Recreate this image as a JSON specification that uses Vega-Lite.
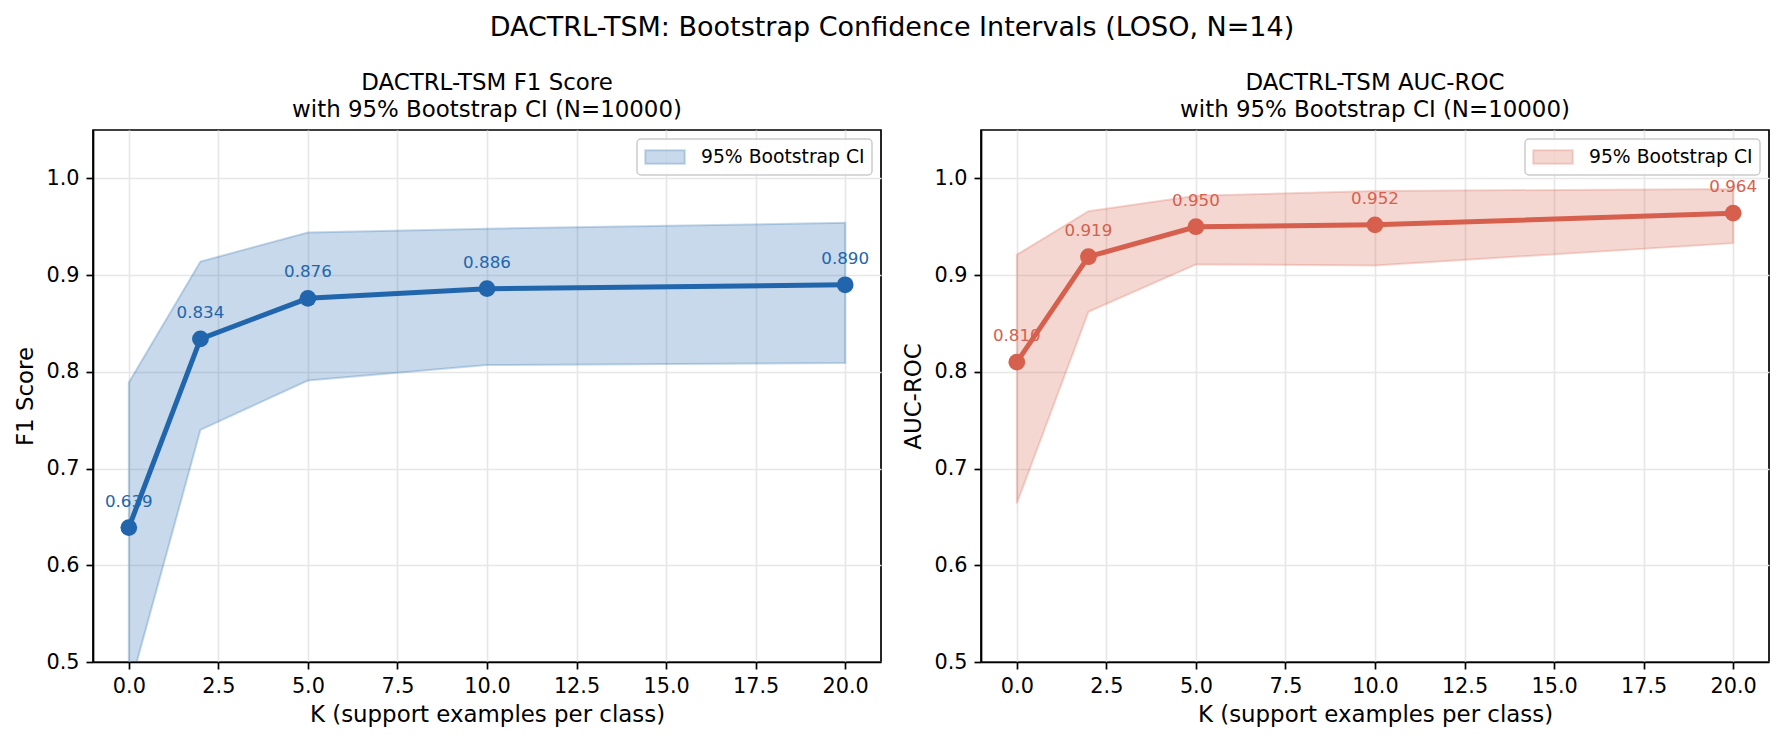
{
  "$schema": "https://vega.github.io/schema/vega-lite/v6.json",
  "padding": {"left": 14, "top": 14, "right": 5, "bottom": 5},
  "background": "white",
  "config": {
    "font": "DejaVu Sans",
    "view": {"stroke": "black", "strokeWidth": 1.7},
    "axis": {
      "domainColor": "black", "domainWidth": 1.7,
      "tickColor": "black", "tickWidth": 1.7, "tickSize": 7,
      "labelFont": "DejaVu Sans", "labelFontSize": 20.8, "labelColor": "black", "labelPadding": 7,
      "titleFont": "DejaVu Sans", "titleFontSize": 22.9, "titleFontWeight": "normal", "titleColor": "black", "titlePadding": 8,
      "gridColor": "#e7e7e7", "gridWidth": 1.7
    },
    "legend": {
      "orient": "top-right", "offset": 9, "padding": 7,
      "labelFont": "DejaVu Sans", "labelFontSize": 18.75, "labelColor": "black", "labelOffset": 25, "labelLimit": 0,
      "fillColor": "rgba(255,255,255,0.8)", "strokeColor": "#cccccc", "strokeWidth": 1.5, "cornerRadius": 4,
      "symbolType": "M-2,-0.68H2V0.68H-2Z", "symbolSize": 390, "symbolOffset": 10, "symbolStrokeWidth": 2
    },
    "title": {"font": "DejaVu Sans", "fontWeight": "normal", "color": "black"}
  },
  "title": {"text": "DACTRL-TSM: Bootstrap Confidence Intervals (LOSO, N=14)", "fontSize": 27, "anchor": "middle", "offset": 29},
  "data": {"values": [
    {"K": 0, "f1": 0.639, "f1_lo": 0.47, "f1_hi": 0.789, "auc": 0.810, "auc_lo": 0.664, "auc_hi": 0.921},
    {"K": 2, "f1": 0.834, "f1_lo": 0.740, "f1_hi": 0.914, "auc": 0.919, "auc_lo": 0.862, "auc_hi": 0.966},
    {"K": 5, "f1": 0.876, "f1_lo": 0.791, "f1_hi": 0.944, "auc": 0.950, "auc_lo": 0.911, "auc_hi": 0.982},
    {"K": 10, "f1": 0.886, "f1_lo": 0.807, "f1_hi": 0.948, "auc": 0.952, "auc_lo": 0.910, "auc_hi": 0.987},
    {"K": 20, "f1": 0.890, "f1_lo": 0.809, "f1_hi": 0.954, "auc": 0.964, "auc_lo": 0.933, "auc_hi": 0.989}
  ]},
  "spacing": 20,
  "resolve": {"scale": {"color": "independent"}, "legend": {"color": "independent"}},
  "hconcat": [
    {
      "width": 788, "height": 532,
      "title": {"text": ["DACTRL-TSM F1 Score", "with 95% Bootstrap CI (N=10000)"], "fontSize": 22.9, "lineHeight": 27, "offset": 8, "anchor": "middle"},
      "encoding": {
        "x": {"field": "K", "type": "quantitative", "scale": {"domain": [-1, 21], "nice": false, "zero": false},
              "axis": {"values": [0, 2.5, 5, 7.5, 10, 12.5, 15, 17.5, 20], "format": ".1f", "title": "K (support examples per class)"}}
      },
      "layer": [
        {
          "mark": {"type": "area", "clip": true, "stroke": "rgba(33,102,172,0.25)", "strokeWidth": 2},
          "encoding": {
            "y": {"field": "f1_lo", "type": "quantitative", "scale": {"domain": [0.5, 1.05], "nice": false, "zero": false},
                  "axis": {"values": [0.5, 0.6, 0.7, 0.8, 0.9, 1.0], "format": ".1f", "title": "F1 Score"}},
            "y2": {"field": "f1_hi"},
            "color": {"datum": "95% Bootstrap CI", "type": "nominal", "scale": {"range": ["rgba(33,102,172,0.25)"]},
                      "legend": {"title": null, "symbolStrokeColor": "rgba(33,102,172,0.25)"}}
          }
        },
        {
          "mark": {"type": "line", "color": "#2166ac", "strokeWidth": 5},
          "encoding": {"y": {"field": "f1", "type": "quantitative", "title": "F1 Score"}}
        },
        {
          "mark": {"type": "point", "filled": true, "size": 280, "color": "#2166ac", "opacity": 1},
          "encoding": {"y": {"field": "f1", "type": "quantitative", "title": "F1 Score"}}
        },
        {
          "mark": {"type": "text", "dy": -21, "baseline": "alphabetic", "align": "center", "fontSize": 16.7, "color": "#2166ac"},
          "encoding": {"y": {"field": "f1", "type": "quantitative", "title": "F1 Score"}, "text": {"field": "f1", "format": ".3f"}}
        }
      ]
    },
    {
      "width": 788, "height": 532,
      "title": {"text": ["DACTRL-TSM AUC-ROC", "with 95% Bootstrap CI (N=10000)"], "fontSize": 22.9, "lineHeight": 27, "offset": 8, "anchor": "middle"},
      "encoding": {
        "x": {"field": "K", "type": "quantitative", "scale": {"domain": [-1, 21], "nice": false, "zero": false},
              "axis": {"values": [0, 2.5, 5, 7.5, 10, 12.5, 15, 17.5, 20], "format": ".1f", "title": "K (support examples per class)"}}
      },
      "layer": [
        {
          "mark": {"type": "area", "clip": true, "stroke": "rgba(214,96,77,0.25)", "strokeWidth": 2},
          "encoding": {
            "y": {"field": "auc_lo", "type": "quantitative", "scale": {"domain": [0.5, 1.05], "nice": false, "zero": false},
                  "axis": {"values": [0.5, 0.6, 0.7, 0.8, 0.9, 1.0], "format": ".1f", "title": "AUC-ROC"}},
            "y2": {"field": "auc_hi"},
            "color": {"datum": "95% Bootstrap CI", "type": "nominal", "scale": {"range": ["rgba(214,96,77,0.25)"]},
                      "legend": {"title": null, "symbolStrokeColor": "rgba(214,96,77,0.25)"}}
          }
        },
        {
          "mark": {"type": "line", "color": "#d6604d", "strokeWidth": 5},
          "encoding": {"y": {"field": "auc", "type": "quantitative", "title": "AUC-ROC"}}
        },
        {
          "mark": {"type": "point", "filled": true, "size": 280, "color": "#d6604d", "opacity": 1},
          "encoding": {"y": {"field": "auc", "type": "quantitative", "title": "AUC-ROC"}}
        },
        {
          "mark": {"type": "text", "dy": -21, "baseline": "alphabetic", "align": "center", "fontSize": 16.7, "color": "#d6604d"},
          "encoding": {"y": {"field": "auc", "type": "quantitative", "title": "AUC-ROC"}, "text": {"field": "auc", "format": ".3f"}}
        }
      ]
    }
  ]
}
